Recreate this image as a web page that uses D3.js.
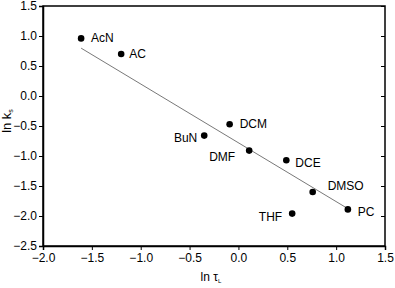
<!DOCTYPE html>
<html lang="en">
<head>
    <meta charset="UTF-8">
    <title>ln ks vs ln tauL</title>
    <script src="https://cdn.jsdelivr.net/npm/d3@7"></script>
    <style>
        body { margin: 0; background: #fff; }
        * { font-family: 'Liberation Sans', Arial, sans-serif; }
        .ax text { font-size: 12px; fill: #000; }
        .ax path, .ax line { stroke: #000; }
    </style>
</head>
<body>
<script>
    // solvents
    const solvents = ["AcN", "AC", "DCM", "BuN", "DMF", "DCE", "DMSO", "THF", "PC"];
    const lnTauL = [-1.61, -1.20, -0.09, -0.35, 0.11, 0.49, 0.76, 0.55, 1.12];
    const lnKs = [0.96, 0.70, -0.47, -0.66, -0.91, -1.07, -1.60, -1.96, -1.89];
    // label offsets (px) and anchor for each point
    const labelDx = [10, 8, 10, -7, -14, 9, 15, -10, 10];
    const labelDy = [4, 4, 4, 6, 10, 7, -2, 7, 7];
    const labelAnchor = ["start", "start", "start", "end", "end", "start", "start", "end", "start"];

    // fitted line
    const fitX = [-1.61, 1.11];
    const fitIntercept = -0.78;
    const fitSlope = -0.98;

    const xTicks = [-2.0, -1.5, -1.0, -0.5, 0.0, 0.5, 1.0, 1.5];
    const yTicks = [-2.5, -2.0, -1.5, -1.0, -0.5, 0.0, 0.5, 1.0, 1.5];

    const W = 395, H = 288;
    const mL = 43, mR = 385, mT = 6, mB = 246;

    const x = d3.scaleLinear().domain([-2, 1.5]).range([mL, mR]);
    const y = d3.scaleLinear().domain([-2.5, 1.5]).range([mB, mT]);

    const svg = d3.select("body").append("svg").attr("width", W).attr("height", H);

    const fmt = d3.format(".1f");

    // frame
    svg.append("rect")
        .attr("x", mL).attr("y", mT)
        .attr("width", mR - mL).attr("height", mB - mT)
        .attr("fill", "none").attr("stroke", "#000").attr("stroke-width", 1.5);

    svg.append("g").attr("class", "ax")
        .attr("transform", `translate(0,${mB})`)
        .call(d3.axisBottom(x).tickValues(xTicks).tickFormat(fmt).tickSizeOuter(0).tickSize(4).tickPadding(3))
        .call(g => g.select(".domain").attr("stroke-width", 1.5));

    svg.append("g").attr("class", "ax")
        .attr("transform", `translate(${mL},0)`)
        .call(d3.axisLeft(y).tickValues(yTicks).tickFormat(fmt).tickSizeOuter(0).tickSize(4).tickPadding(2))
        .call(g => g.select(".domain").attr("stroke-width", 1.5));

    svg.append("g").attr("class", "ax")
        .attr("transform", `translate(${mR},0)`)
        .call(d3.axisLeft(y).tickValues(yTicks).tickFormat("").tickSizeOuter(0).tickSize(4))
        .call(g => g.select(".domain").remove());

    // fit line
    svg.append("line")
        .attr("x1", x(fitX[0])).attr("y1", y(fitIntercept + fitSlope * fitX[0]))
        .attr("x2", x(fitX[1])).attr("y2", y(fitIntercept + fitSlope * fitX[1]))
        .attr("stroke", "#555").attr("stroke-width", 0.8);

    const pts = solvents.map((s, i) => ({name: s, x: lnTauL[i], y: lnKs[i], dx: labelDx[i], dy: labelDy[i], a: labelAnchor[i]}));

    svg.selectAll("circle.pt").data(pts).enter().append("circle")
        .attr("class", "pt")
        .attr("cx", d => x(d.x)).attr("cy", d => y(d.y)).attr("r", 3.3)
        .attr("fill", "#000");

    svg.selectAll("text.lbl").data(pts).enter().append("text")
        .attr("class", "lbl")
        .attr("x", d => x(d.x) + d.dx).attr("y", d => y(d.y) + d.dy)
        .attr("text-anchor", d => d.a)
        .attr("font-size", 12)
        .text(d => d.name);

    // axis titles
    const xt = svg.append("text")
        .attr("x", 211).attr("y", 281)
        .attr("text-anchor", "middle").attr("font-size", 12);
    xt.append("tspan").text("ln \u03C4");
    xt.append("tspan").attr("font-size", 6).attr("dy", 2).text("L");

    const yt = svg.append("text")
        .attr("transform", "translate(11,121) rotate(-90)")
        .attr("text-anchor", "middle").attr("font-size", 13);
    yt.append("tspan").text("ln k");
    yt.append("tspan").attr("font-size", 7).attr("dy", 2).text("s");
</script>
</body>
</html>
